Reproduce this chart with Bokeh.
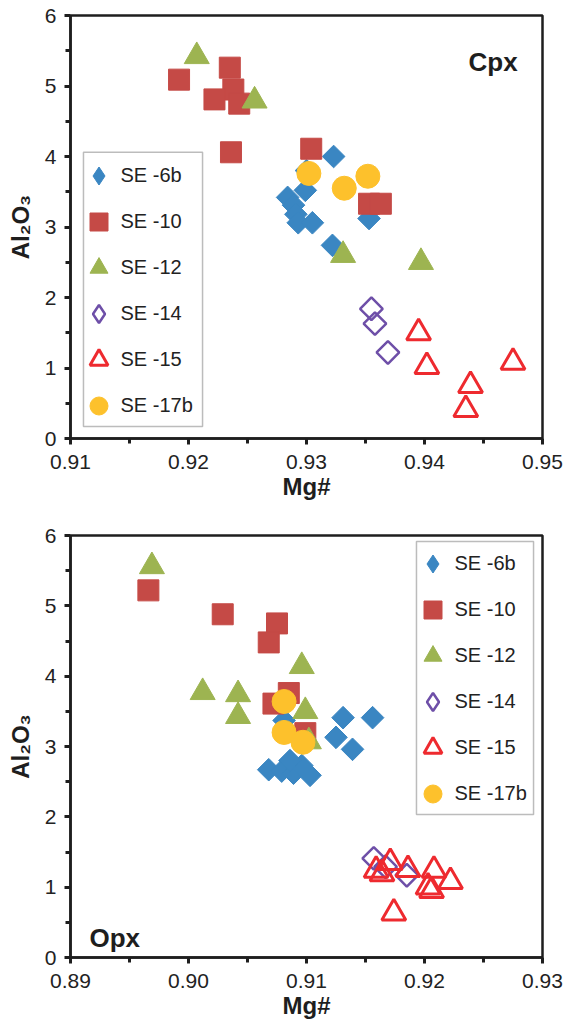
import numpy as np
from bokeh.plotting import figure
from bokeh.models import (Range1d, FixedTicker, PrintfTickFormatter, Legend, LegendItem,
                          BoxAnnotation, Label)
from bokeh.layouts import column
from bokeh.embed import file_html
from bokeh.resources import INLINE

# ---------------- data ----------------
labels = ["SE -6b", "SE -10", "SE -12", "SE -14", "SE -15", "SE -17b"]

# Cpx panel
cpx_6b_mg = [0.9284, 0.9289, 0.9291, 0.9293, 0.9305, 0.9299, 0.9300, 0.9323, 0.9322, 0.9353]
cpx_6b_al = [3.42, 3.31, 3.18, 3.06, 3.06, 3.52, 3.80, 4.00, 2.74, 3.12]
cpx_10_mg = [0.9192, 0.9235, 0.9238, 0.9222, 0.9243, 0.9236, 0.9304, 0.9353, 0.9363]
cpx_10_al = [5.09, 5.26, 4.95, 4.81, 4.75, 4.06, 4.11, 3.33, 3.33]
cpx_12_mg = [0.9207, 0.9256, 0.9331, 0.9397]
cpx_12_al = [5.42, 4.79, 2.60, 2.50]
cpx_14_mg = [0.9355, 0.9358, 0.9369]
cpx_14_al = [1.84, 1.63, 1.22]
cpx_15_mg = [0.9395, 0.9402, 0.9439, 0.9435, 0.9475]
cpx_15_al = [1.50, 1.02, 0.75, 0.41, 1.08]
cpx_17b_mg = [0.9302, 0.9332, 0.9352]
cpx_17b_al = [3.76, 3.55, 3.72]

# Opx panel
opx_6b_mg = [0.9081, 0.9131, 0.9156, 0.9125, 0.9139, 0.9068, 0.9079, 0.9089, 0.9096, 0.9103, 0.9086]
opx_6b_al = [3.37, 3.41, 3.41, 3.13, 2.96, 2.67, 2.65, 2.62, 2.73, 2.59, 2.80]
opx_10_mg = [0.8966, 0.9029, 0.9075, 0.9068, 0.9085, 0.9072, 0.9099]
opx_10_al = [5.22, 4.88, 4.75, 4.48, 3.76, 3.61, 3.19]
opx_12_mg = [0.8969, 0.9096, 0.9012, 0.9042, 0.9042, 0.9099, 0.9102]
opx_12_al = [5.56, 4.14, 3.77, 3.74, 3.43, 3.50, 3.07]
opx_14_mg = [0.9157, 0.9167, 0.9185]
opx_14_al = [1.41, 1.29, 1.17]
opx_15_mg = [0.9159, 0.9164, 0.9171, 0.9186, 0.9208, 0.9222, 0.9206, 0.9203, 0.9174]
opx_15_al = [1.24, 1.19, 1.35, 1.25, 1.24, 1.08, 0.95, 1.00, 0.63]
opx_17b_mg = [0.9081, 0.9081, 0.9097]
opx_17b_al = [3.64, 3.20, 3.06]

y_ticks = [0, 1, 2, 3, 4, 5, 6]
y_minor = [0.5, 1.5, 2.5, 3.5, 4.5, 5.5]
cpx_x_ticks = [0.91, 0.92, 0.93, 0.94, 0.95]
cpx_x_minor = [0.915, 0.925, 0.935, 0.945]
opx_x_ticks = [0.89, 0.90, 0.91, 0.92, 0.93]
opx_x_minor = [0.895, 0.905, 0.915, 0.925]

# ---------------- style ----------------
BLUE = "#3a86c2"
RED = "#c54a46"
GREEN = "#9db451"
PURPLE = "#6e4fa8"
RED2 = "#ee2a2f"
YELLOW = "#fdc12c"
INK = "#1e1e1e"
FONT = "Liberation Sans"


def make_fig(xr, xt, xm, height, bt, bb):
    p = figure(width=566, height=height, output_backend="svg", toolbar_location=None,
               x_range=Range1d(*xr), y_range=Range1d(0, 6),
               min_border_left=70, min_border_right=24,
               min_border_top=bt, min_border_bottom=bb)
    p.xgrid.visible = False
    p.ygrid.visible = False
    p.outline_line_color = INK
    p.outline_line_width = 2.5
    p.background_fill_color = "white"
    p.border_fill_color = "white"

    p.xaxis.ticker = FixedTicker(ticks=xt, minor_ticks=xm)
    p.xaxis.formatter = PrintfTickFormatter(format="%.2f")
    p.yaxis.ticker = FixedTicker(ticks=y_ticks, minor_ticks=y_minor)
    for ax in (p.xaxis[0], p.yaxis[0]):
        ax.axis_line_color = INK
        ax.axis_line_width = 2.5
        ax.major_tick_line_color = INK
        ax.minor_tick_line_color = INK
        ax.major_tick_line_width = 3
        ax.minor_tick_line_width = 3
        ax.major_tick_in = 0
        ax.minor_tick_in = 0
        ax.major_tick_out = 6
        ax.minor_tick_out = 5
        ax.major_label_text_font = FONT
        ax.major_label_text_font_size = "21px"
        ax.major_label_text_color = "#222222"
        ax.axis_label_text_font = FONT
        ax.axis_label_text_font_style = "bold"
        ax.axis_label_text_font_size = "24px"
        ax.axis_label_text_color = INK
    p.xaxis.axis_label = "Mg#"
    p.xaxis.major_label_standoff = 10
    p.xaxis.axis_label_standoff = 1
    p.yaxis.axis_label = "Al₂O₃"
    p.yaxis.major_label_standoff = 8
    p.yaxis.axis_label_standoff = 8
    return p


def add_series(p, mg6, al6, mg10, al10, mg12, al12, mg14, al14, mg15, al15, mg17, al17):
    p.scatter(mg6, al6, marker="square", angle=np.pi / 4, size=16,
              fill_color=BLUE, line_color=BLUE, line_width=1)
    r10 = p.scatter(mg10, al10, marker="square", size=21,
                    fill_color=RED, line_color=RED, line_width=1)
    r12 = p.scatter(mg12, al12, marker="triangle", size=25,
                    fill_color=GREEN, line_color=GREEN, line_width=1)
    p.scatter(mg14, al14, marker="square", angle=np.pi / 4, size=16,
              fill_color=None, line_color=PURPLE, line_width=2.5)
    r15 = p.scatter(mg15, al15, marker="triangle", size=24,
                    fill_color=None, line_color=RED2, line_width=3)
    r17 = p.scatter(mg17, al17, marker="circle", size=24,
                    fill_color=YELLOW, line_color=YELLOW, line_width=1)
    # legend-only stand-ins for the diamond symbols (not drawn in the plot area)
    l6 = p.scatter([np.nan], [np.nan], marker="diamond", fill_color=BLUE,
                   line_color=BLUE, line_width=1)
    l14 = p.scatter([np.nan], [np.nan], marker="diamond", fill_color=None,
                    line_color=PURPLE, line_width=2.5)
    return [l6, r10, r12, l14, r15, r17]


def add_legend(p, rends, loc, box):
    left, right, bottom, top = box
    p.add_layout(BoxAnnotation(left=left, right=right, bottom=bottom, top=top,
                               fill_alpha=0, line_color="#222222", line_width=1.5))
    items = [LegendItem(label=lab, renderers=[r]) for lab, r in zip(labels, rends)]
    leg = Legend(items=items, location=loc, orientation="vertical",
                 glyph_width=45, glyph_height=45, label_height=45, spacing=1,
                 padding=0, margin=0, label_standoff=0,
                 border_line_color=None, background_fill_alpha=0,
                 label_text_font=FONT, label_text_font_size="20px",
                 label_text_color="#222222")
    p.add_layout(leg)


# ---------------- Cpx ----------------
p1 = make_fig((0.91, 0.95), cpx_x_ticks, cpx_x_minor, 518, 15, 80)
r1 = add_series(p1, cpx_6b_mg, cpx_6b_al, cpx_10_mg, cpx_10_al, cpx_12_mg, cpx_12_al,
                cpx_14_mg, cpx_14_al, cpx_15_mg, cpx_15_al, cpx_17b_mg, cpx_17b_al)
add_legend(p1, r1, (5.5, 10.5), (0.91110, 0.92119, 0.171, 4.06))
p1.add_layout(Label(x=0.94373, y=5.34, text="Cpx", text_font=FONT, text_font_style="bold",
                    text_font_size="26px", text_color=INK, text_baseline="alphabetic"))

# ---------------- Opx ----------------
p2 = make_fig((0.89, 0.93), opx_x_ticks, opx_x_minor, 509, 17, 70)
r2 = add_series(p2, opx_6b_mg, opx_6b_al, opx_10_mg, opx_10_al, opx_12_mg, opx_12_al,
                opx_14_mg, opx_14_al, opx_15_mg, opx_15_al, opx_17b_mg, opx_17b_al)
add_legend(p2, r2, (339.5, 141.5), (0.91932, 0.92924, 2.033, 5.915))
p2.add_layout(Label(x=0.89161, y=0.284, text="Opx", text_font=FONT, text_font_style="bold",
                    text_font_size="26px", text_color=INK, text_baseline="alphabetic"))

layout = column(p1, p2, spacing=0)
open("out.html", "w").write(file_html(layout, INLINE))
